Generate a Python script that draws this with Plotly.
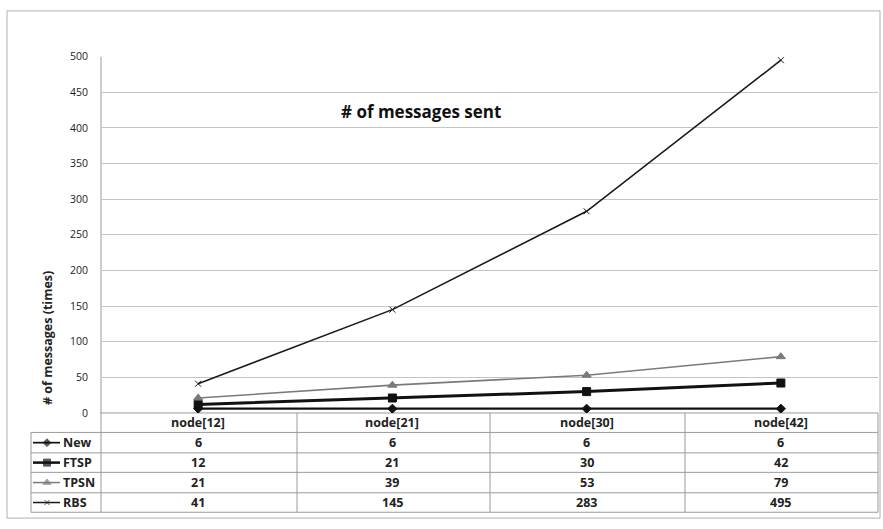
import plotly.graph_objects as go

categories = ["node[12]", "node[21]", "node[30]", "node[42]"]
series_names = ["New", "FTSP", "TPSN", "RBS"]
new_vals = [6, 6, 6, 6]
ftsp_vals = [12, 21, 30, 42]
tpsn_vals = [21, 39, 53, 79]
rbs_vals = [41, 145, 283, 495]
y_ticks = [0, 50, 100, 150, 200, 250, 300, 350, 400, 450, 500]

W, H = 883, 529
series_vals = [new_vals, ftsp_vals, tpsn_vals, rbs_vals]
styles = [
    dict(color="#111111", width=2.2, symbol="diamond", size=7),
    dict(color="#111111", width=3, symbol="square", size=8),
    dict(color="#7a7a7a", width=1.6, symbol="triangle-up", size=8),
    dict(color="#1a1a1a", width=1.6, symbol="x-thin", size=6),
]

def px(x):
    return x / W

def py(y):
    return (H - y) / H

fig = go.Figure()
for name, vals, st in zip(series_names, series_vals, styles):
    fig.add_trace(go.Scatter(
        x=categories, y=vals, name=name, mode="lines+markers",
        line=dict(color=st["color"], width=st["width"]),
        marker=dict(symbol=st["symbol"], size=st["size"], color=st["color"],
                    line=dict(color=st["color"], width=1)),
        xaxis="x", yaxis="y", showlegend=False,
    ))

# legend keys in table (pixel overlay axis)
row_y = [447.5, 468, 488.5, 509]
for name, st, ry in zip(series_names, styles, row_y):
    fig.add_trace(go.Scatter(
        x=[33, 47, 60], y=[ry, ry, ry], mode="lines+markers",
        line=dict(color=st["color"], width=max(1.5, st["width"] - 0.5)),
        marker=dict(symbol=st["symbol"], size=[0, st["size"] - 1, 0], color=st["color"],
                    line=dict(color=st["color"], width=1)),
        xaxis="x2", yaxis="y2", showlegend=False, hoverinfo="skip",
    ))

shapes = []
line_c = "#9a9a9a"
shapes.append(dict(type="rect", xref="paper", yref="paper", x0=px(7), x1=px(880),
                   y0=py(525), y1=py(4), line=dict(color="#b0b0b0", width=1), layer="below"))
for yy, x0 in [(417, 100), (437, 31), (458, 31), (478, 31), (499, 31), (519, 31)]:
    shapes.append(dict(type="line", xref="paper", yref="paper", x0=px(x0), x1=px(878),
                       y0=py(yy), y1=py(yy), line=dict(color=line_c, width=1), layer="below"))
shapes.append(dict(type="line", xref="paper", yref="paper", x0=px(101), x1=px(101),
                   y0=py(51), y1=py(519), line=dict(color=line_c, width=1), layer="below"))
shapes.append(dict(type="line", xref="paper", yref="paper", x0=px(31), x1=px(31),
                   y0=py(437), y1=py(519), line=dict(color=line_c, width=1), layer="below"))
for xx in [297, 490, 685, 878]:
    shapes.append(dict(type="line", xref="paper", yref="paper", x0=px(xx), x1=px(xx),
                       y0=py(417), y1=py(519), line=dict(color=line_c, width=1), layer="below"))

annotations = []
font_tbl = dict(family="Open Sans", size=12.5, color="#222222")
for c in categories:
    annotations.append(dict(x=c, y=py(427), xref="x", yref="paper", text="<b>%s</b>" % c,
                            showarrow=False, font=font_tbl, xanchor="center", yanchor="middle"))
for name, vals, ry in zip(series_names, series_vals, row_y):
    annotations.append(dict(x=px(61), y=py(ry), xref="paper", yref="paper", text="<b>%s</b>" % name,
                            showarrow=False, font=font_tbl, xanchor="left", yanchor="middle"))
    for c, v in zip(categories, vals):
        annotations.append(dict(x=c, y=py(ry), xref="x", yref="paper", text="<b>%d</b>" % v,
                                showarrow=False, font=font_tbl, xanchor="center", yanchor="middle"))
annotations.append(dict(x=px(421), y=py(107), xref="paper", yref="paper",
                        text="<b># of messages sent</b>", showarrow=False,
                        font=dict(family="Open Sans", size=17, color="#111111"),
                        xanchor="center", yanchor="middle"))
annotations.append(dict(x=px(47), y=py(340), xref="paper", yref="paper",
                        text="<b># of messages (times)</b>", showarrow=False, textangle=-90,
                        font=dict(family="Open Sans", size=12.5, color="#222222"),
                        xanchor="center", yanchor="middle"))

fig.update_layout(
    width=W, height=H, margin=dict(l=0, r=0, t=0, b=0),
    paper_bgcolor="white", plot_bgcolor="rgba(0,0,0,0)",
    xaxis=dict(domain=[px(101), px(878)], range=[-0.5, 3.5], type="category",
               showticklabels=False, showgrid=False, zeroline=False, ticks=""),
    yaxis=dict(domain=[py(417), py(51)], range=[0, 500], tickvals=y_ticks,
               showgrid=True, gridcolor="#c4c4c4", gridwidth=1, zeroline=False,
               ticks="", ticklabelstandoff=12,
               tickfont=dict(family="Open Sans", size=10.5, color="#222222")),
    xaxis2=dict(domain=[0, 1], range=[0, W], visible=False, anchor="y2"),
    yaxis2=dict(domain=[0, 1], range=[H, 0], visible=False, anchor="x2"),
    shapes=shapes, annotations=annotations,
)

fig.write_html("out.html", config={"displayModeBar": False},
               post_script="document.body.style.margin='0';document.body.style.overflow='hidden';")
